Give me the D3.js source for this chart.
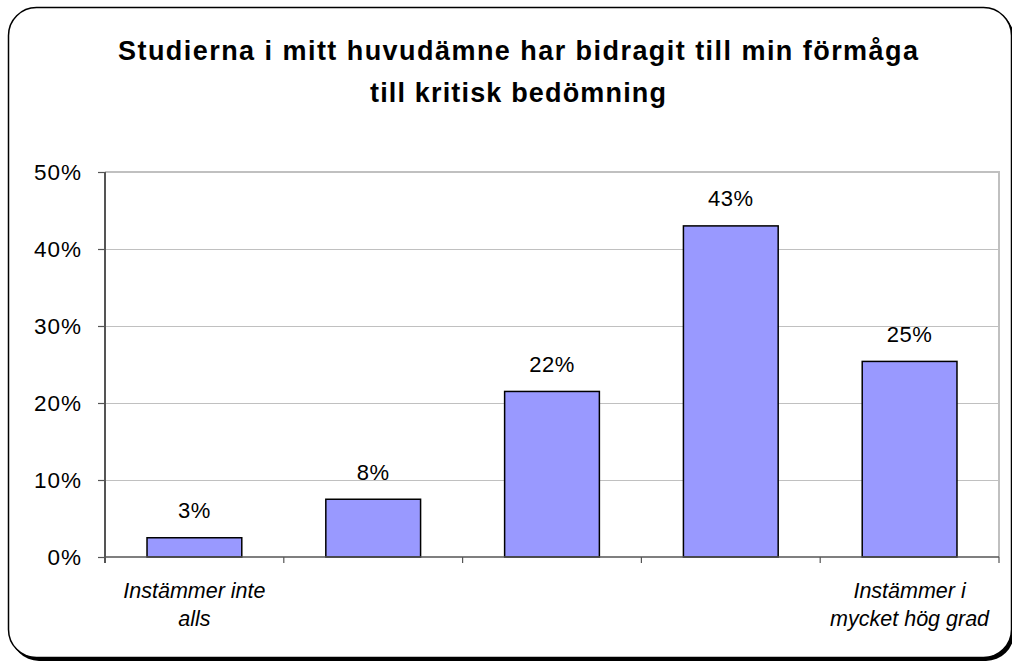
<!DOCTYPE html>
<meta charset="utf-8">
<script src="https://d3js.org/d3.v7.min.js"></script>
<style>
  body { margin: 0; background: #fff; }
  text { font-family: Arial, "Liberation Sans", sans-serif; }
</style>
<div id="chart"></div>
<script>
  // data
  var categories = ["c1", "c2", "c3", "c4", "c5"];
  var values = [2.5, 7.5, 21.5, 43, 25.4];
  var valueLabels = ["3%", "8%", "22%", "43%", "25%"];
  var catLabels = [["Instämmer inte", "alls"], [], [], [], ["Instämmer i", "mycket hög grad"]];
  var yTicks = [0, 10, 20, 30, 40, 50];
  var titleLines = ["Studierna i mitt huvudämne har bidragit till min förmåga", "till kritisk bedömning"];
  var titleWidths = [800, 296];

  var W = 1012, H = 662;
  var plot = {left: 105, top: 172, right: 999, bottom: 557};

  var svg = d3.select("#chart").append("svg")
    .attr("width", W).attr("height", H);

  // outer frame with shadow
  svg.append("rect")
    .attr("x", 11).attr("y", 10)
    .attr("width", 1003).attr("height", 651)
    .attr("rx", 28).attr("ry", 28)
    .style("fill", "#000");
  svg.append("rect")
    .attr("x", 8.5).attr("y", 7.5)
    .attr("width", 1003).attr("height", 650)
    .attr("rx", 28).attr("ry", 28)
    .style("fill", "#fff")
    .style("stroke", "#000")
    .style("stroke-width", 1.5);

  // title (stretched wide like the original)
  svg.append("g").selectAll("text")
    .data(titleLines)
    .enter().append("text")
      .attr("x", 518)
      .attr("y", function(d, i) { return 60 + i * 42; })
      .attr("text-anchor", "middle")
      .attr("textLength", function(d, i) { return titleWidths[i]; })
      .attr("lengthAdjust", "spacing")
      .style("font-size", "27px")
      .style("font-weight", "bold")
      .text(function(d) { return d; });

  var x = d3.scaleBand()
    .domain(categories)
    .range([plot.left, plot.right])
    .paddingInner(0.47)
    .paddingOuter(0.235);

  var y = d3.scaleLinear()
    .domain([0, 50])
    .range([plot.bottom, plot.top]);

  // plot area border (top and right)
  svg.append("path")
    .attr("d", "M" + plot.left + "," + plot.top + "H" + plot.right + "V" + plot.bottom)
    .style("fill", "none")
    .style("stroke", "#c0c0c0")
    .style("stroke-width", 2);

  // gridlines
  svg.append("g").selectAll("line")
    .data(yTicks.filter(function(d) { return d > 0 && d < 50; }))
    .enter().append("line")
      .attr("x1", plot.left).attr("x2", plot.right)
      .attr("y1", function(d) { return Math.round(y(d)) + 0.5; })
      .attr("y2", function(d) { return Math.round(y(d)) + 0.5; })
      .style("stroke", "#c0c0c0")
      .style("stroke-width", 1);

  // y axis
  var yAxis = svg.append("g")
    .attr("transform", "translate(" + plot.left + ",0)")
    .call(d3.axisLeft(y).tickValues(yTicks).tickSize(7).tickPadding(16)
      .tickFormat(function(d) { return d + "%"; }));
  yAxis.select(".domain").remove();
  yAxis.selectAll(".tick line").style("stroke", "#555").style("stroke-width", 1.2);
  yAxis.selectAll(".tick text")
    .style("font-size", "22.5px")
    .style("letter-spacing", "1px")
    .style("fill", "#000")
    .style("font-family", "Arial, 'Liberation Sans', sans-serif");
  svg.append("line")
    .attr("x1", plot.left).attr("x2", plot.left)
    .attr("y1", plot.top).attr("y2", plot.bottom + 6)
    .style("stroke", "#555").style("stroke-width", 2);

  // bars
  svg.append("g").selectAll("rect")
    .data(values)
    .enter().append("rect")
      .attr("x", function(d, i) { return x(categories[i]); })
      .attr("y", function(d) { return y(d); })
      .attr("width", x.bandwidth())
      .attr("height", function(d) { return y(0) - y(d); })
      .style("fill", "#9999ff")
      .style("stroke", "#000")
      .style("stroke-width", 1.5);

  // baseline and category ticks
  svg.append("line")
    .attr("x1", plot.left).attr("x2", plot.right)
    .attr("y1", plot.bottom).attr("y2", plot.bottom)
    .style("stroke", "#555").style("stroke-width", 1.5);
  var step = x.step();
  svg.append("g").selectAll("line")
    .data(categories)
    .enter().append("line")
      .attr("x1", function(d) { return x(d) - x.paddingOuter() * step + step; })
      .attr("x2", function(d) { return x(d) - x.paddingOuter() * step + step; })
      .attr("y1", plot.bottom).attr("y2", plot.bottom + 6)
      .style("stroke", "#555").style("stroke-width", 1.2);

  // value labels
  svg.append("g").selectAll("text")
    .data(values)
    .enter().append("text")
      .attr("x", function(d, i) { return x(categories[i]) + x.bandwidth() / 2; })
      .attr("y", function(d) { return y(d) - 19.5; })
      .attr("text-anchor", "middle")
      .style("font-size", "22px")
      .style("letter-spacing", "0.5px")
      .text(function(d, i) { return valueLabels[i]; });

  // category labels
  catLabels.forEach(function(lines, i) {
    svg.append("g").selectAll("text")
      .data(lines)
      .enter().append("text")
        .attr("x", x(categories[i]) + x.bandwidth() / 2)
        .attr("y", function(d, j) { return 598 + j * 28; })
        .attr("text-anchor", "middle")
        .style("font-size", "21.5px")
        .style("font-style", "italic")
        .text(function(d) { return d; });
  });
</script>
